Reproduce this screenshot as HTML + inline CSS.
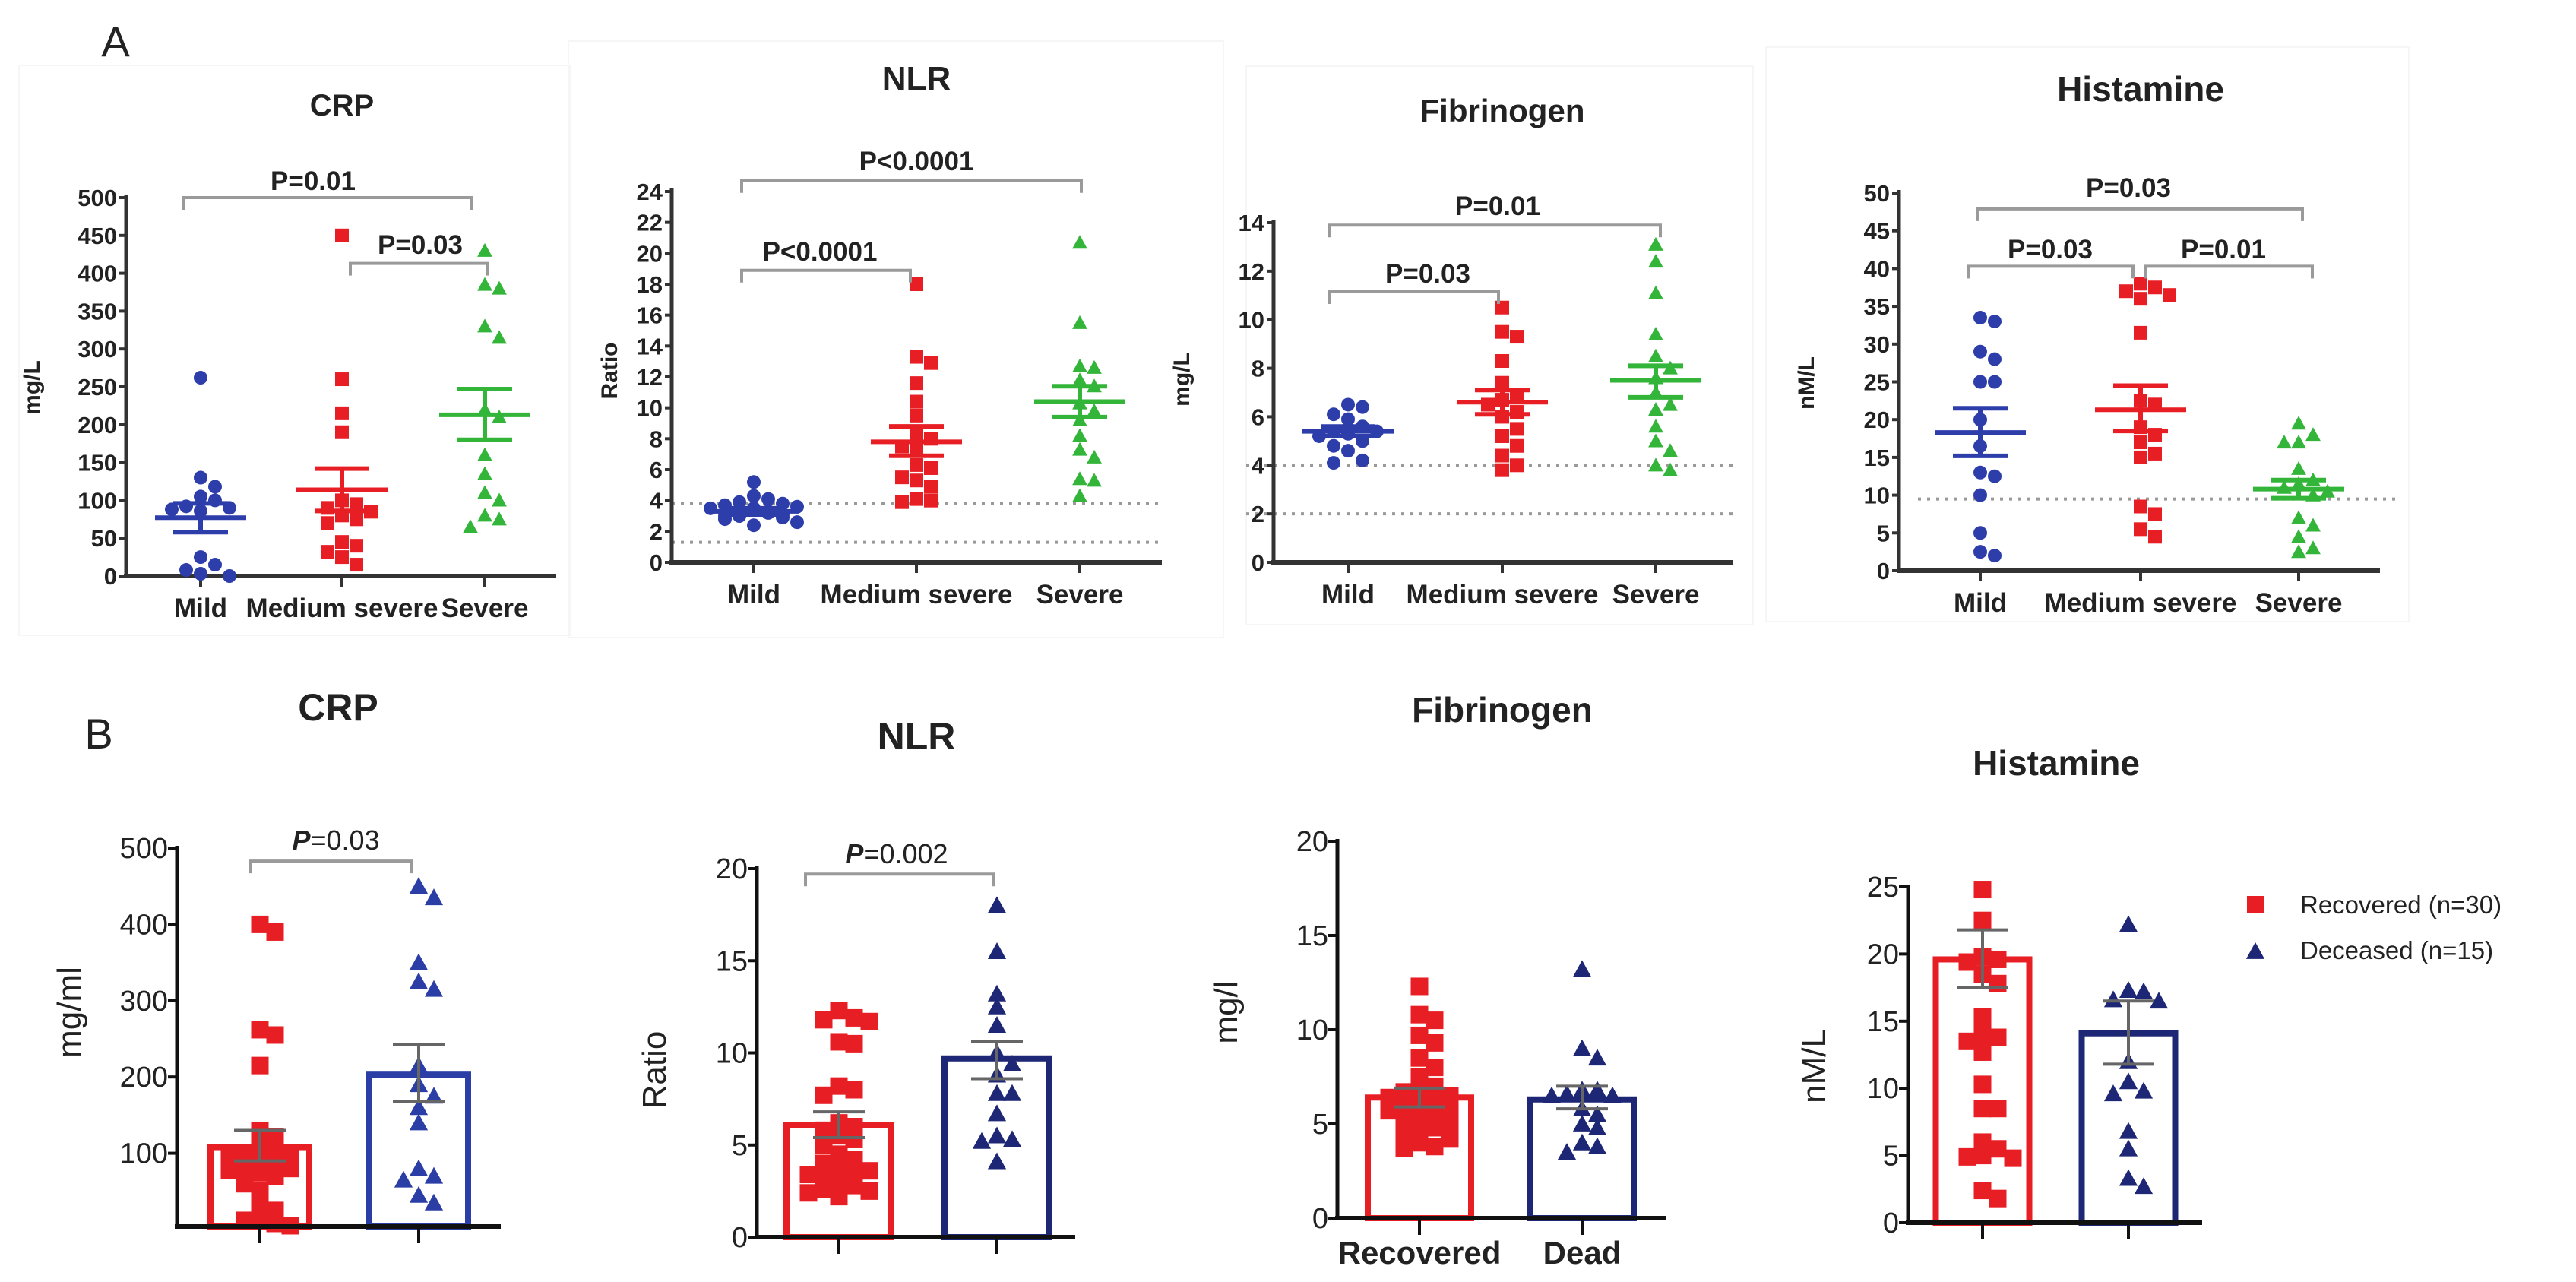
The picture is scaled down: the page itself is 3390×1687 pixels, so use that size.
<!DOCTYPE html>
<html><head><meta charset="utf-8"><style>
html,body{margin:0;padding:0;background:#fff;}
svg{display:block;}
text{font-family:"Liberation Sans Narrow","Liberation Sans",sans-serif;}
</style></head><body>
<svg id="fig" width="3390" height="1687" viewBox="0 0 3390 1687" xmlns="http://www.w3.org/2000/svg"></svg>
<script>
// ---------- Panel A data ----------
const aCats = ["Mild","Medium severe","Severe"];
const crpA_mild = [262,130,118,105,100,92,90,88,86,25,15,8,3,0];
const crpA_med  = [450,260,215,190,100,95,90,85,80,75,70,45,40,32,25,15];
const crpA_sev  = [430,385,380,330,315,220,210,160,135,110,100,80,75,65];
const crpA_mean = [77,114,213];
const crpA_semLo = [58,86,180];
const crpA_semHi = [96,142,247];
const crpA_ticks = [0,50,100,150,200,250,300,350,400,450,500];

const nlrA_mild = [5.2,4.3,4.1,3.9,3.8,3.7,3.6,3.5,3.5,3.4,3.3,3.3,3.2,3.1,3.0,3.0,2.9,2.8,2.6,2.4];
const nlrA_med  = [18,13.3,12.9,11.6,10.4,9.5,8.3,8,7.5,7.3,6.3,6.1,5.5,5.3,4.9,4.1,4,3.9];
const nlrA_sev  = [20.7,15.5,12.7,12.6,11.8,11.4,10.3,9.8,9.2,8.2,7.3,6.8,5.4,5.3,4.3];
const nlrA_mean = [3.3,7.8,10.4];
const nlrA_semLo = [3.1,6.9,9.4];
const nlrA_semHi = [3.5,8.8,11.4];
const nlrA_ticks = [0,2,4,6,8,10,12,14,16,18,20,22,24];

const fibA_mild = [6.5,6.4,6.1,5.9,5.6,5.4,5.4,5.3,5.2,5.0,4.8,4.6,4.2,4.1];
const fibA_med  = [10.5,9.5,9.3,8.3,7.4,6.9,6.7,6.5,6.2,6.0,5.5,5.2,4.8,4.4,4.0,3.8];
const fibA_sev  = [13.1,12.4,11.1,9.4,8.5,8.0,7.6,7.0,6.5,6.3,5.6,5.0,4.6,4.0,3.8];
const fibA_mean = [5.4,6.6,7.5];
const fibA_semLo = [5.2,6.1,6.8];
const fibA_semHi = [5.6,7.1,8.1];
const fibA_ticks = [0,2,4,6,8,10,12,14];

const hisA_mild = [33.5,33,29,28,25,25,20,16.5,13,12.5,10,5,2.5,2];
const hisA_med  = [38,37.5,37,36.5,36,31.5,22.5,22,19,18,17,15.5,15,8.5,7.5,5.5,4.5];
const hisA_sev  = [19.5,18,17,17,13.5,12,11.5,11,10.5,10,7,6,4.5,3,2.5];
const hisA_mean = [18.3,21.3,10.8];
const hisA_semLo = [15.2,18.5,9.6];
const hisA_semHi = [21.5,24.5,12];
const hisA_ticks = [0,5,10,15,20,25,30,35,40,45,50];

// ---------- Panel B data ----------
const crpB_rec = [400,390,262,255,215,130,122,110,105,100,97,95,92,90,88,86,84,82,80,78,75,70,60,52,35,25,18,12,8,5];
const crpB_dec = [450,435,350,325,315,215,190,175,160,140,80,70,65,45,35];
const crpB_bar = [108,203];
const crpB_semLo = [90,168];
const crpB_semHi = [130,242];
const crpB_ticks = [100,200,300,400,500];

const nlrB_rec = [12.3,11.9,11.8,11.7,10.6,10.5,8.2,8.0,7.7,6.2,6.0,5.8,5.5,5.3,5.0,4.5,4.2,4.0,3.8,3.6,3.5,3.4,3.3,3.2,3.0,2.8,2.6,2.5,2.4,2.2];
const nlrB_dec = [18.0,15.5,13.2,12.5,11.5,10.0,9.4,8.8,7.8,7.8,6.7,5.5,5.3,5.2,4.1];
const nlrB_bar = [6.1,9.7];
const nlrB_semLo = [5.4,8.6];
const nlrB_semHi = [6.8,10.6];
const nlrB_ticks = [0,5,10,15,20];

const fibB_rec = [12.3,10.8,10.5,9.7,9.3,8.5,8.0,7.5,7.0,6.8,6.7,6.5,6.4,6.3,6.2,6.0,6.0,5.8,5.7,5.5,5.4,5.2,5.0,4.8,4.7,4.5,4.2,4.0,3.8,3.7];
const fibB_dec = [13.2,9.0,8.5,6.8,6.8,6.6,6.5,6.5,5.8,5.5,5.0,4.8,4.0,3.8,3.5];
const fibB_bar = [6.4,6.3];
const fibB_semLo = [5.9,5.8];
const fibB_semHi = [6.9,7.0];
const fibB_ticks = [0,5,10,15,20];

const hisB_rec = [24.8,22.5,19.8,19.6,19.4,18.5,17.8,15.3,14.0,13.8,13.5,12.7,10.3,8.5,8.5,6.0,5.5,5.0,4.9,4.8,2.4,1.8];
const hisB_dec = [22.2,17.3,17.2,16.6,16.5,12.0,10.5,9.8,9.6,6.8,5.5,3.3,2.7];
const hisB_bar = [19.6,14.1];
const hisB_semLo = [17.5,11.8];
const hisB_semHi = [21.8,16.5];
const hisB_ticks = [0,5,10,15,20,25];

const NS = "http://www.w3.org/2000/svg";
const svg = document.getElementById('fig');
function mk(tag, parent, attrs){
  const e = document.createElementNS(NS, tag);
  for (const k in attrs) e.setAttribute(k, attrs[k]);
  parent.appendChild(e);
  return e;
}
function txt(parent, x, y, s, size, weight, anchor, fill){
  const t = mk('text', parent, {x:x, y:y, 'font-size':size, 'font-weight':weight||'bold', 'text-anchor':anchor||'middle', fill:fill||'#222'});
  t.textContent = s;
  return t;
}
function marker(parent, type, cx, cy, s, color){
  let m;
  if (type==='circle') m = mk('circle', parent, {cx:cx, cy:cy, r:s/2, fill:color});
  else if (type==='square') m = mk('rect', parent, {x:cx-s/2, y:cy-s/2, width:s, height:s, fill:color});
  else m = mk('polygon', parent, {points:`${cx},${cy-s*0.55} ${cx-s*0.55},${cy+s*0.45} ${cx+s*0.55},${cy+s*0.45}`, fill:color});
  return m;
}
// beeswarm: step d, collision threshold thr, max offset maxOff
function swarm(ys, cx, d, thr, maxOff){
  const placed = [], xs = [];
  const maxK = Math.max(0, Math.floor(maxOff/d))*2;
  ys.forEach((y,idx)=>{
    let best = cx, bestC = 1e9;
    for (let k=0;k<=maxK;k++){
      const off = (k===0?0:(k%2===1?1:-1)*Math.ceil(k/2))*d;
      const x = cx+off;
      const c = placed.filter(p=>Math.abs(p[0]-x)<thr && Math.abs(p[1]-y)<thr).length;
      if (c<bestC){bestC=c; best=x;}
      if (c===0) break;
    }
    placed.push([best,y]); xs.push(best);
  });
  return xs;
}
function bracket(g, x1, x2, y, label, tx, ty, size, italic){
  const p = mk('path', g, {d:`M${x1},${y+16} V${y} H${x2} V${y+16}`, fill:'none', stroke:'#9a9a9a', 'stroke-width':4});
  
  
  let t;
  if (italic){
    t = mk('text', g, {x:tx, y:ty, 'font-size':size, 'text-anchor':'middle', fill:'#222'});
    const a = mk('tspan', t, {'font-style':'italic','font-weight':'bold'}); a.textContent='P';
    const b = mk('tspan', t, {}); b.textContent = label;
  } else t = txt(g, tx, ty, label, size, 'bold');
  
  
}

// ---------- scatter panel (A) ----------
function scatterPanel(c){
  const g = mk('g', svg, {});
  
  
  const Y = v => c.y0 - (v/c.vmax)*(c.y0-c.yTop);
  if (c.frame){ const f = mk('rect', g, {x:c.frame[0], y:c.frame[1], width:c.frame[2], height:c.frame[3], fill:'none', stroke:'#f6f6f6', 'stroke-width':2});   }
  const tt = txt(g, c.titleX, c.titleY, c.title, c.titleSize, 'bold');
  
  
  const yl = txt(g, 0, 0, c.ylabel, 30, 'bold');
  yl.setAttribute('transform', `translate(${c.ylx},${c.yly}) rotate(-90)`);
  
  
  c.refs.forEach(v=>{
    const l = mk('line', g, {x1:c.refX1, x2:c.refX2, y1:Y(v), y2:Y(v), stroke:'#9a9a9a', 'stroke-width':4, 'stroke-dasharray':'4,8'});
    
    
  });
  const ya = mk('line', g, {x1:c.ax, x2:c.ax, y1:c.y0+2, y2:c.yTop-4, stroke:'#333', 'stroke-width':5});
  
  
  const xa = mk('line', g, {x1:c.ax-3, x2:c.xEnd, y1:c.y0, y2:c.y0, stroke:'#333', 'stroke-width':6});
  
  
  c.ticks.forEach(v=>{
    mk('line', g, {x1:c.ax-9, x2:c.ax, y1:Y(v), y2:Y(v), stroke:'#333', 'stroke-width':4});
    const t = txt(g, c.ax-12, Y(v)+11, String(v), 31, 'bold', 'end');
    
    
  });
  c.cats.forEach((x,i)=>{
    mk('line', g, {x1:x, x2:x, y1:c.y0, y2:c.y0+14, stroke:'#333', 'stroke-width':4});
    const t = txt(g, x, c.y0+54, aCats[i], 35, 'bold');
    
    
  });
  const types = ['circle','square','triangle'];
  const cols = ['#2d3eab','#e81e25','#33b53a'];
  c.data.forEach((arr,i)=>{
    const ys = arr.map(Y);
    const xs = swarm(ys, c.cats[i], 19, 17, 70);
    arr.forEach((v,j)=>{
      const m = marker(g, types[i], xs[j], ys[j], 18, cols[i]);
      
      
    });
    const x = c.cats[i];
    const mean = mk('line', g, {x1:x-60, x2:x+60, y1:Y(c.mean[i]), y2:Y(c.mean[i]), stroke:cols[i], 'stroke-width':6});
    
    
    const er = mk('path', g, {d:`M${x-36},${Y(c.semHi[i])} H${x+36} M${x-36},${Y(c.semLo[i])} H${x+36} M${x},${Y(c.semHi[i])} V${Y(c.semLo[i])}`, stroke:cols[i], 'stroke-width':6, fill:'none'});
    
    
  });
  c.brackets.forEach(b=>bracket(g, b[0], b[1], Y(b[2]), b[3], b[4], b[5], 35, false));
}

scatterPanel({name:'panel-a-crp', ax:166, y0:758, yTop:260, vmax:500, xEnd:732, cats:[264,450,638],
  data:[crpA_mild,crpA_med,crpA_sev], mean:crpA_mean, semLo:crpA_semLo, semHi:crpA_semHi, ticks:crpA_ticks,
  title:'CRP', titleX:450, titleY:152, titleSize:40, ylabel:'mg/L', ylx:52, yly:510,
  refs:[0], refX1:166, refX2:732, frame:[25,86,725,750],
  brackets:[[241,620,500,'P=0.01',412,250],[461,642,413,'P=0.03',553,334]]});
scatterPanel({name:'panel-a-nlr', ax:884, y0:740, yTop:252, vmax:24, xEnd:1529, cats:[992,1206,1421],
  data:[nlrA_mild,nlrA_med,nlrA_sev], mean:nlrA_mean, semLo:nlrA_semLo, semHi:nlrA_semHi, ticks:nlrA_ticks,
  title:'NLR', titleX:1206, titleY:118, titleSize:44, ylabel:'Ratio', ylx:812, yly:488,
  refs:[3.8,1.3], refX1:884, refX2:1529, frame:[748,54,862,785],
  brackets:[[976,1423,24.7,'P<0.0001',1206,224],[976,1198,18.9,'P<0.0001',1079,343]]});
scatterPanel({name:'panel-a-fibrinogen', ax:1676, y0:740, yTop:293, vmax:14, xEnd:2280, cats:[1774,1977,2179],
  data:[fibA_mild,fibA_med,fibA_sev], mean:fibA_mean, semLo:fibA_semLo, semHi:fibA_semHi, ticks:fibA_ticks,
  title:'Fibrinogen', titleX:1977, titleY:160, titleSize:42, ylabel:'mg/L', ylx:1565, yly:499,
  refs:[4,2], refX1:1640, refX2:2286, frame:[1640,87,667,735],
  brackets:[[1749,2185,13.9,'P=0.01',1971,283],[1749,1972,11.15,'P=0.03',1879,372]]});
scatterPanel({name:'panel-a-histamine', ax:2499, y0:751, yTop:254, vmax:50, xEnd:3132, cats:[2606,2817,3025],
  data:[hisA_mild,hisA_med,hisA_sev], mean:hisA_mean, semLo:hisA_semLo, semHi:hisA_semHi, ticks:hisA_ticks,
  title:'Histamine', titleX:2817, titleY:133, titleSize:46, ylabel:'nM/L', ylx:2387, yly:504,
  refs:[9.5], refX1:2524, refX2:3153, frame:[2324,62,846,756],
  brackets:[[2603,3030,47.9,'P=0.03',2801,259],[2590,2807,40.3,'P=0.03',2698,340],[2823,3043,40.3,'P=0.01',2926,340]]});

const lblA = txt(svg, 152, 74, 'A', 56, 'normal');


const lblB = txt(svg, 130, 985, 'B', 56, 'normal');



// ---------- bar panel (B) ----------
function barPanel(c){
  const g = mk('g', svg, {});
  
  
  const Y = v => c.y0 - (v/c.vmax)*(c.y0-c.yTop);
  const tt = txt(g, c.titleX, c.titleY, c.title, c.titleSize, 'bold');
  
  
  const yl = txt(g, 0, 0, c.ylabel, 44, 'normal');
  yl.setAttribute('transform', `translate(${c.ylx},${c.yly}) rotate(-90)`);
  yl.setAttribute('font-family','"Liberation Sans",sans-serif');
  
  
  const cols = ['#e81e25', c.blue];
  const types = ['square','triangle'];
  c.data.forEach((arr,i)=>{
    const x = c.cats[i], w = c.barW;
    const b = mk('rect', g, {x:x-w/2, y:Y(c.bar[i]), width:w, height:c.axisY-Y(c.bar[i]), fill:'none', stroke:cols[i], 'stroke-width':8});
    
    
  });
  c.data.forEach((arr,i)=>{
    const ys = arr.map(Y);
    const xs = swarm(ys, c.cats[i], 20, 16, 50);
    arr.forEach((v,j)=>{
      const m = marker(g, types[i], xs[j], ys[j], i===0?23:22, cols[i]);
      
      
    });
  });
  c.data.forEach((arr,i)=>{
    const x = c.cats[i];
    const er = mk('path', g, {d:`M${x-34},${Y(c.semHi[i])} H${x+34} M${x-34},${Y(c.semLo[i])} H${x+34} M${x},${Y(c.semHi[i])} V${Y(c.semLo[i])}`, stroke:'#666', 'stroke-width':4, fill:'none'});
    
    
  });
  const ya = mk('line', g, {x1:c.ax, x2:c.ax, y1:c.axisY+3, y2:c.yTop-3, stroke:'#111', 'stroke-width':5});
  
  
  const xa = mk('line', g, {x1:c.ax-3, x2:c.xEnd, y1:c.axisY, y2:c.axisY, stroke:'#111', 'stroke-width':6});
  
  
  c.ticks.forEach(v=>{
    mk('line', g, {x1:c.ax-12, x2:c.ax, y1:Y(v), y2:Y(v), stroke:'#111', 'stroke-width':4});
    const t = txt(g, c.ax-12, Y(v)+13, String(v), 38, 'normal', 'end');
    
    
  });
  c.cats.forEach((x,i)=>{
    mk('line', g, {x1:x, x2:x, y1:c.axisY, y2:c.axisY+22, stroke:'#111', 'stroke-width':4});
    if (c.xlabels){
      const t = txt(g, x, c.axisY+60, c.xlabels[i], 42, 'bold');
      
      
    }
  });
  if (c.br) bracket(g, c.br[0], c.br[1], Y(c.br[2]), c.br[3], c.br[4], c.br[5], 36, true);
}

barPanel({name:'panel-b-crp', ax:233, y0:1618, yTop:1116, vmax:500, axisY:1614, xEnd:659, cats:[342,551], barW:130,
  data:[crpB_rec,crpB_dec], bar:crpB_bar, semLo:crpB_semLo, semHi:crpB_semHi, ticks:crpB_ticks, blue:'#2b3ea6',
  title:'CRP', titleX:445, titleY:948, titleSize:50, ylabel:'mg/ml', ylx:106, yly:1332,
  br:[330,541,483,'=0.03',442,1118]});
barPanel({name:'panel-b-nlr', ax:996, y0:1628, yTop:1143, vmax:20, axisY:1628, xEnd:1415, cats:[1104,1312], barW:138,
  data:[nlrB_rec,nlrB_dec], bar:nlrB_bar, semLo:nlrB_semLo, semHi:nlrB_semHi, ticks:nlrB_ticks, blue:'#1d2775',
  title:'NLR', titleX:1206, titleY:986, titleSize:50, ylabel:'Ratio', ylx:876, yly:1408,
  br:[1060,1307,19.7,'=0.002',1180,1136]});
barPanel({name:'panel-b-fibrinogen', ax:1760, y0:1603, yTop:1107, vmax:20, axisY:1603, xEnd:2193, cats:[1868,2082], barW:136,
  data:[fibB_rec,fibB_dec], bar:fibB_bar, semLo:fibB_semLo, semHi:fibB_semHi, ticks:fibB_ticks, blue:'#1d2775',
  title:'Fibrinogen', titleX:1977, titleY:950, titleSize:46, ylabel:'mg/l', ylx:1628, yly:1332,
  xlabels:['Recovered','Dead']});
barPanel({name:'panel-b-histamine', ax:2511, y0:1609, yTop:1167, vmax:25, axisY:1609, xEnd:2898, cats:[2609,2801], barW:123,
  data:[hisB_rec,hisB_dec], bar:hisB_bar, semLo:hisB_semLo, semHi:hisB_semHi, ticks:hisB_ticks, blue:'#1d2775',
  title:'Histamine', titleX:2706, titleY:1020, titleSize:46, ylabel:'nM/L', ylx:2402, yly:1403});

// legend
const lg = mk('g', svg, {});


const l1 = mk('g', lg, {});


marker(l1, 'square', 2968, 1190, 22, '#e81e25');
const lt1 = txt(l1, 3027, 1202, 'Recovered (n=30)', 33, 'normal', 'start');
lt1.setAttribute('font-family','"Liberation Sans",sans-serif');
const l2 = mk('g', lg, {});


marker(l2, 'triangle', 2968, 1252, 22, '#1d2775');
const lt2 = txt(l2, 3027, 1262, 'Deceased (n=15)', 33, 'normal', 'start');
lt2.setAttribute('font-family','"Liberation Sans",sans-serif');
</script>
</body></html>
